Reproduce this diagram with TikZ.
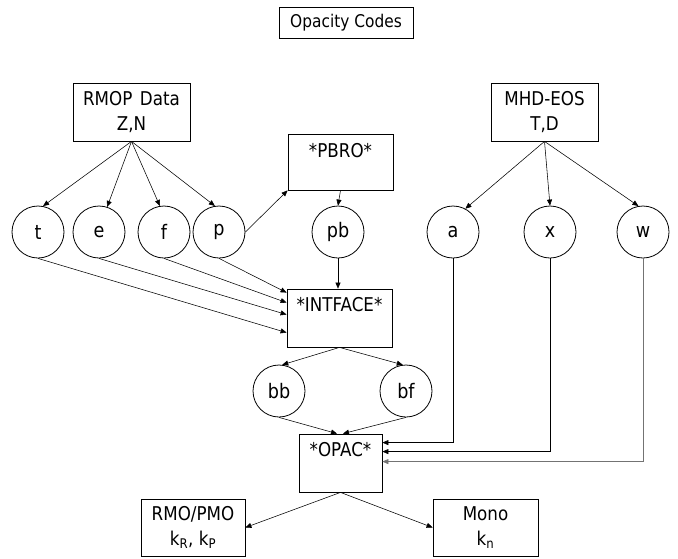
\documentclass[tikz,border=0pt]{standalone}
\usepackage{fontspec}
\setmainfont{DejaVu Sans}[FakeStretch=0.88]
\usetikzlibrary{arrows.meta,calc}
\begin{document}
\begin{tikzpicture}[x=1pt,y=-1pt,
  box/.style={draw,line width=0.8pt,inner sep=0pt,align=center,font=\fontsize{19}{25}\selectfont},
  circ/.style={draw,circle,line width=0.8pt,minimum size=52pt,inner sep=0pt,font=\fontsize{20}{20}\selectfont},
  txt/.style={font=\fontsize{19}{20}\selectfont,inner sep=0pt},
  conn/.style={line width=0.55pt,-{Triangle[length=6pt,width=5pt]}}]
\useasboundingbox (0,0) rectangle (678,558);
% boxes
\node[box,minimum width=134pt,minimum height=31pt,font=\fontsize{17.5}{20}\selectfont] (title) at (346,22.5) {Opacity Codes};
\node[box,minimum width=117pt,minimum height=58pt] (rmop) at (131.5,112) {RMOP\hspace{0.4em}Data\\Z,N};
\node[box,minimum width=107pt,minimum height=58pt] (mhd) at (544.5,112) {MHD-EOS\\T,D};
\node[box,minimum width=105pt,minimum height=56pt] (pbro) at (340.5,162) {};
\node[txt] (pbrotxt) at (340.5,151) {*PBRO*};
\node[box,minimum width=105pt,minimum height=58pt] (intface) at (339.5,318) {};
\node[txt] (intfacetxt) at (339.5,305) {*INTFACE*};
\node[box,minimum width=83pt,minimum height=58pt] (opac) at (340.5,463) {};
\node[txt] (opactxt) at (340.5,450) {*OPAC*};
\node[box,minimum width=104pt,minimum height=57pt] (rmo) at (193,527.5) {RMO/PMO\\k\textsubscript{R}, k\textsubscript{P}};
\node[box,minimum width=105pt,minimum height=57pt] (mono) at (485.5,527.5) {Mono\\k\textsubscript{n}};
% circles
\node[circ] (t) at (38,232) {t};
\node[circ] (e) at (99,232) {e};
\node[circ] (f) at (164,232) {f};
\node[circ] (p) at (219,232) {p};
\node[circ] (pb) at (338,232) {pb};
\node[circ] (a) at (453,232) {a};
\node[circ] (x) at (550,232) {x};
\node[circ] (w) at (643,232) {w};
\node[circ] (bb) at (279,391) {bb};
\node[circ] (bf) at (406,391) {bf};
% connectors
\draw[conn] (rmop.south) -- (t.79);
\draw[conn] (rmop.south) -- (e.72);
\draw[conn] (rmop.south) -- (f.99);
\draw[conn] (rmop.south) -- (p.99);
\draw[conn] (p.east) -- (pbro.south west);
\draw[conn] (pbro.south) -- (pb.north);
\draw[conn] (pb.south) -- (pb.south |- intface.north);
\draw[conn] (t.south) -- ([yshift=-44pt]intface.north west);
\draw[conn] (e.south) -- ([yshift=-26pt]intface.north west);
\draw[conn] (f.south) -- ([yshift=-14pt]intface.north west);
\draw[conn] (p.south) -- ([yshift=-4pt]intface.north west);
\draw[conn] (mhd.south) -- (a.62);
\draw[conn] (mhd.south) -- (x.north);
\draw[conn] (mhd.south) -- (w.100);
\draw[conn] (intface.south) -- (bb.83);
\draw[conn] (intface.south) -- (bf.97);
\draw[conn] (bb.south) -- ([xshift=-3.5pt]opac.north);
\draw[conn] (bf.south) -- ([xshift=2.5pt]opac.north);
\draw[conn] (a.south) |- ([yshift=-9pt]opac.north east);
\draw[conn] (x.south) |- ([yshift=-18pt]opac.north east);
\draw[conn,draw=black!55] (w.south) |- ([yshift=-28pt]opac.north east);
\draw[conn] (opac.south) -- (rmo.east);
\draw[conn] (opac.south) -- (mono.west);
\end{tikzpicture}
\end{document}
